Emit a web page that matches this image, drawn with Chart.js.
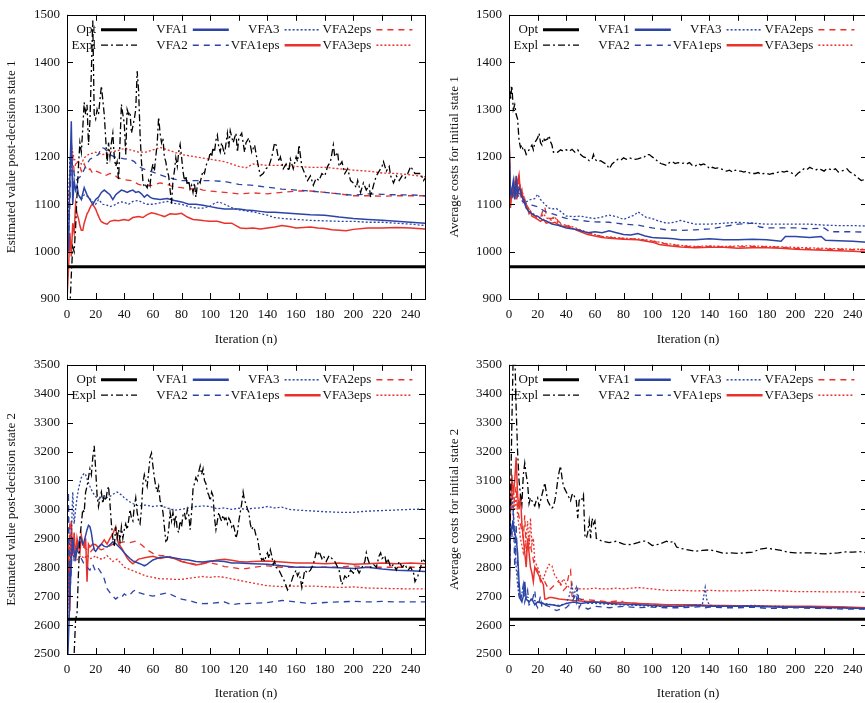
<!DOCTYPE html>
<html>
<head>
<meta charset="utf-8">
<script src="https://cdn.jsdelivr.net/npm/chart.js@4/dist/chart.umd.min.js"></script>
<style>
  html, body { margin: 0; padding: 0; background: #fff; overflow: hidden; width: 865px; height: 703px; }
  canvas { position: absolute; }
</style>
</head>
<body>
<canvas id="est1" width="440" height="350" style="left:0px;top:0px"></canvas>
<canvas id="cost1" width="450" height="350" style="left:432px;top:0px"></canvas>
<canvas id="est2" width="440" height="353" style="left:0px;top:350px"></canvas>
<canvas id="cost2" width="450" height="353" style="left:432px;top:350px"></canvas>
<script>
// ---- series names (legend order) ----
const seriesNames = ['Opt', 'Expl', 'VFA1', 'VFA2', 'VFA3', 'VFA1eps', 'VFA2eps', 'VFA3eps'];

// ---- Estimated value post-decision state 1: [iteration, value] ----
const est1Opt = [[0, 968], [250, 968]];
const est1Expl = [[2,880],[3,950],[4,1010],[5,1000],[6,1050],[7,1120],[8,1180],[9,1230],[10,1210],[11,1260],[12,1315],[13,1290],[14,1310],[15,1225],[16,1275],[17,1380],[18,1488],[19,1290],[20,1280],[21,1300],[22,1290],[23,1320],[24,1350],[25,1320],[26,1290],[27,1240],[28,1185],[29,1230],[30,1200],[31,1230],[32,1250],[33,1200],[34,1180],[35,1190],[36,1150],[37,1230],[38,1311],[39,1290],[40,1270],[41,1205],[42,1300],[43,1290],[44,1295],[45,1250],[46,1265],[47,1280],[48,1300],[49,1381],[50,1340],[51,1250],[52,1190],[53,1150],[54,1136],[55,1140],[56,1135],[57,1150],[58,1140],[59,1170],[60,1185],[61,1170],[62,1200],[63,1230],[64,1284],[65,1250],[66,1230],[67,1240],[68,1200],[69,1190],[70,1170],[71,1160],[72,1130],[73,1101],[74,1150],[75,1170],[76,1198],[77,1180],[78,1210],[79,1226],[80,1200],[81,1170],[82,1150],[83,1160],[84,1140],[85,1150],[86,1132],[87,1140],[88,1125],[89,1145],[90,1115],[91,1140],[92,1150],[93,1145],[94,1160],[95,1170],[96,1165],[97,1180],[98,1190],[99,1195],[100,1210],[101,1200],[102,1220],[103,1210],[104,1235],[105,1246],[106,1220],[107,1210],[108,1230],[110,1205],[112,1250],[113,1220],[114,1255],[116,1230],[118,1250],[119,1210],[120,1240],[122,1250],[124,1210],[125,1230],[127,1240],[129,1210],[131,1225],[133,1190],[135,1160],[137,1165],[139,1175],[141,1180],[143,1200],[145,1230],[146,1225],[148,1190],[149,1200],[151,1175],[153,1185],[155,1170],[156,1195],[158,1175],[160,1200],[161,1190],[162,1225],[164,1180],[166,1165],[168,1150],[170,1160],[172,1140],[174,1155],[176,1150],[178,1165],[180,1160],[182,1180],[184,1190],[186,1225],[187,1200],[189,1210],[190,1180],[192,1190],[194,1165],[196,1175],[198,1150],[200,1145],[202,1135],[203,1150],[205,1125],[207,1145],[209,1130],[211,1140],[212,1115],[214,1140],[216,1160],[218,1170],[220,1180],[221,1190],[223,1170],[225,1180],[226,1160],[228,1145],[230,1160],[232,1150],[234,1160],[236,1155],[238,1165],[240,1180],[241,1175],[243,1165],[245,1165],[247,1165],[249,1150],[250,1155]];
const est1VFA1 = [[1,1000],[2,1150],[3,1275],[4,1100],[5,1150],[6,1130],[7,1140],[8,1120],[10,1110],[12,1135],[14,1120],[16,1110],[18,1100],[20,1110],[22,1115],[24,1125],[26,1130],[28,1125],[30,1120],[32,1110],[34,1120],[36,1125],[38,1130],[40,1128],[42,1125],[44,1128],[46,1130],[48,1125],[50,1127],[52,1122],[54,1115],[56,1120],[58,1115],[60,1112],[65,1110],[70,1112],[75,1108],[80,1105],[85,1100],[90,1100],[95,1098],[100,1095],[105,1092],[110,1090],[115,1090],[120,1090],[125,1088],[130,1087],[135,1085],[140,1083],[145,1083],[150,1082],[160,1080],[170,1078],[180,1077],[190,1073],[200,1070],[210,1068],[220,1066],[230,1064],[240,1062],[250,1060]];
const est1VFA2 = [[1,1020],[2,1100],[3,1200],[4,1180],[6,1150],[8,1155],[10,1160],[13,1180],[16,1195],[19,1200],[22,1205],[24,1220],[26,1218],[28,1212],[30,1205],[33,1200],[36,1198],[40,1196],[44,1195],[47,1190],[50,1180],[53,1175],[56,1172],[60,1168],[65,1162],[70,1157],[75,1153],[80,1150],[90,1150],[100,1150],[110,1148],[120,1142],[130,1140],[140,1136],[150,1132],[160,1130],[170,1128],[180,1125],[190,1122],[200,1119],[210,1122],[220,1121],[230,1120],[240,1120],[250,1118]];
const est1VFA3 = [[1,1050],[2,1200],[3,1180],[4,1150],[6,1130],[8,1120],[10,1110],[12,1120],[15,1115],[18,1105],[20,1100],[22,1110],[25,1100],[28,1098],[30,1095],[33,1098],[35,1102],[38,1105],[40,1104],[43,1100],[46,1106],[50,1108],[53,1103],[56,1100],[60,1100],[65,1103],[70,1106],[75,1102],[80,1100],[85,1095],[90,1092],[95,1092],[100,1096],[103,1102],[106,1105],[110,1100],[115,1093],[120,1088],[125,1086],[130,1084],[135,1080],[140,1077],[145,1072],[150,1070],[160,1068],[170,1066],[180,1065],[190,1064],[200,1064],[210,1062],[220,1062],[230,1060],[240,1058],[250,1055]];
const est1VFA1eps = [[0,900],[1,960],[2,1040],[3,990],[4,1060],[5,1040],[6,1100],[7,1080],[8,1070],[9,1055],[10,1045],[11,1045],[12,1060],[13,1070],[14,1080],[15,1085],[16,1092],[17,1098],[18,1100],[19,1095],[20,1090],[21,1082],[22,1075],[23,1068],[24,1063],[26,1060],[28,1058],[30,1064],[33,1066],[36,1065],[40,1068],[43,1066],[46,1072],[50,1074],[53,1072],[56,1078],[59,1082],[62,1080],[65,1077],[68,1074],[72,1080],[76,1079],[80,1081],[84,1073],[88,1068],[92,1067],[96,1065],[100,1064],[105,1064],[110,1060],[115,1060],[118,1055],[121,1050],[125,1049],[130,1050],[135,1048],[140,1050],[145,1052],[150,1055],[155,1053],[160,1050],[165,1051],[170,1052],[175,1050],[180,1049],[185,1046],[190,1045],[195,1044],[200,1047],[210,1050],[220,1050],[230,1051],[240,1050],[250,1048]];
const est1VFA2eps = [[0,1000],[1,1100],[2,1150],[3,1230],[4,1200],[5,1170],[6,1185],[8,1190],[10,1170],[12,1185],[14,1170],[16,1175],[18,1165],[20,1170],[22,1168],[24,1165],[26,1160],[28,1162],[30,1165],[33,1162],[36,1155],[40,1152],[45,1150],[50,1142],[55,1138],[60,1140],[65,1145],[70,1142],[75,1136],[80,1135],[85,1132],[90,1134],[95,1130],[100,1128],[110,1125],[120,1122],[130,1124],[140,1122],[150,1125],[160,1128],[170,1128],[180,1125],[190,1122],[200,1118],[210,1118],[220,1117],[230,1118],[240,1118],[250,1118]];
const est1VFA3eps = [[0,1000],[1,1100],[2,1180],[3,1220],[4,1210],[5,1195],[7,1190],[10,1185],[12,1198],[15,1205],[18,1208],[20,1210],[25,1205],[30,1210],[35,1213],[40,1218],[45,1214],[50,1210],[55,1210],[60,1215],[65,1220],[70,1215],[75,1210],[80,1205],[90,1200],[100,1195],[110,1190],[120,1180],[125,1177],[130,1185],[140,1182],[150,1182],[160,1180],[170,1178],[180,1178],[190,1175],[200,1172],[210,1170],[220,1166],[230,1165],[240,1162],[250,1158]];

// ---- Average costs for initial state 1 ----
const cost1Opt = [[0, 968], [250, 968]];
const cost1Expl = [[0,1370],[1,1320],[2,1350],[3,1300],[4,1310],[5,1290],[6,1280],[7,1235],[8,1220],[9,1225],[10,1212],[11,1215],[12,1205],[13,1210],[14,1215],[15,1220],[16,1225],[17,1215],[18,1230],[19,1235],[20,1240],[21,1250],[22,1230],[23,1225],[24,1240],[25,1235],[27,1238],[28,1245],[29,1232],[30,1225],[31,1210],[32,1212],[34,1210],[36,1215],[38,1212],[40,1215],[42,1212],[44,1216],[46,1210],[48,1215],[50,1205],[52,1200],[54,1198],[56,1192],[58,1195],[59,1205],[60,1195],[62,1190],[64,1192],[66,1188],[68,1185],[70,1175],[72,1185],[74,1190],[76,1195],[78,1193],[80,1198],[82,1195],[84,1198],[86,1196],[88,1195],[90,1196],[92,1198],[94,1198],[96,1205],[98,1205],[100,1200],[102,1196],[104,1190],[106,1186],[108,1184],[110,1182],[112,1188],[114,1190],[116,1186],[118,1188],[120,1186],[122,1187],[124,1185],[126,1188],[128,1182],[130,1180],[132,1186],[134,1183],[136,1185],[138,1182],[140,1175],[142,1178],[144,1176],[146,1177],[148,1175],[150,1172],[152,1170],[154,1172],[156,1168],[158,1172],[160,1170],[162,1170],[164,1168],[166,1170],[168,1166],[170,1165],[172,1165],[174,1167],[176,1163],[178,1165],[180,1165],[182,1163],[184,1165],[186,1165],[188,1168],[190,1170],[192,1168],[194,1170],[196,1168],[198,1165],[200,1160],[202,1166],[204,1170],[206,1175],[208,1173],[210,1178],[212,1175],[214,1172],[216,1175],[218,1173],[220,1170],[222,1175],[224,1174],[226,1172],[228,1175],[230,1168],[232,1170],[234,1172],[236,1175],[238,1168],[240,1165],[242,1160],[244,1155],[246,1150],[248,1152],[250,1148]];
const cost1VFA1 = [[0,1250],[1,1120],[2,1130],[3,1150],[4,1110],[5,1160],[6,1120],[7,1135],[8,1130],[9,1115],[10,1110],[12,1092],[14,1085],[16,1080],[18,1076],[20,1075],[23,1068],[26,1065],[30,1058],[35,1055],[40,1050],[45,1048],[50,1044],[55,1040],[60,1042],[65,1040],[70,1044],[75,1040],[80,1036],[85,1035],[90,1038],[95,1033],[100,1030],[105,1029],[110,1028],[115,1027],[120,1025],[130,1025],[140,1027],[150,1025],[160,1025],[170,1026],[180,1025],[190,1022],[193,1032],[200,1032],[210,1030],[218,1032],[221,1024],[230,1023],[240,1022],[250,1020]];
const cost1VFA2 = [[0,1200],[1,1120],[2,1110],[3,1130],[4,1125],[6,1120],[8,1110],[10,1105],[13,1100],[16,1098],[20,1095],[25,1085],[30,1080],[35,1075],[40,1070],[45,1068],[50,1066],[55,1064],[60,1063],[70,1062],[80,1058],[90,1056],[100,1050],[110,1046],[120,1045],[130,1046],[140,1048],[150,1053],[160,1058],[170,1060],[175,1052],[180,1050],[190,1050],[200,1050],[210,1048],[220,1050],[224,1042],[230,1042],[240,1042],[250,1041]];
const cost1VFA3 = [[0,1200],[1,1130],[2,1120],[4,1135],[6,1125],[8,1120],[10,1112],[12,1105],[15,1110],[18,1112],[20,1121],[22,1110],[25,1100],[28,1092],[30,1090],[33,1091],[36,1085],[40,1075],[45,1074],[50,1075],[55,1072],[60,1070],[65,1073],[70,1077],[75,1074],[80,1068],[85,1074],[88,1078],[90,1084],[93,1078],[96,1072],[100,1070],[105,1064],[110,1060],[115,1062],[120,1066],[125,1062],[130,1058],[140,1058],[150,1060],[160,1062],[170,1060],[180,1058],[190,1058],[200,1058],[210,1058],[220,1056],[230,1055],[240,1055],[250,1054]];
const cost1VFA1eps = [[0,1267],[1,1092],[2,1130],[3,1120],[4,1145],[5,1110],[6,1150],[7,1163],[8,1120],[9,1130],[10,1105],[11,1110],[12,1095],[13,1090],[14,1080],[15,1085],[16,1075],[18,1072],[20,1068],[22,1064],[24,1068],[26,1060],[28,1062],[30,1060],[32,1062],[34,1058],[36,1054],[40,1053],[45,1048],[50,1042],[55,1036],[60,1033],[65,1030],[70,1028],[80,1026],[90,1025],[100,1020],[105,1015],[110,1013],[120,1010],[130,1008],[140,1009],[150,1009],[160,1007],[170,1008],[180,1008],[190,1007],[200,1005],[210,1004],[220,1003],[230,1002],[240,1001],[250,999]];
const cost1VFA2eps = [[0,1260],[1,1100],[2,1120],[3,1140],[4,1115],[5,1130],[6,1145],[7,1155],[8,1130],[10,1115],[12,1100],[14,1090],[16,1080],[18,1075],[20,1070],[22,1072],[24,1090],[25,1094],[26,1078],[28,1070],[30,1070],[32,1075],[34,1066],[36,1060],[40,1055],[45,1050],[50,1045],[55,1040],[60,1035],[65,1032],[70,1030],[80,1028],[90,1026],[100,1022],[110,1016],[120,1012],[130,1010],[140,1011],[150,1010],[160,1010],[170,1011],[180,1010],[190,1009],[200,1007],[210,1006],[220,1005],[230,1005],[240,1004],[250,1004]];
const cost1VFA3eps = [[0,1255],[1,1110],[2,1125],[3,1130],[4,1120],[5,1140],[6,1130],[7,1150],[8,1135],[10,1120],[12,1100],[14,1088],[16,1082],[18,1078],[20,1072],[22,1070],[24,1080],[26,1072],[28,1068],[30,1066],[32,1074],[34,1062],[36,1058],[40,1056],[45,1052],[50,1046],[55,1040],[60,1036],[65,1032],[70,1031],[80,1028],[90,1027],[100,1023],[110,1017],[120,1013],[130,1011],[140,1012],[150,1011],[160,1012],[170,1012],[180,1011],[190,1010],[200,1009],[210,1008],[220,1007],[230,1006],[240,1005],[250,1005]];

// ---- Estimated value post-decision state 2 ----
const est2Opt = [[0, 2620], [250, 2620]];
const est2Expl = [[4,2400],[5,2500],[6,2620],[7,2640],[8,2780],[9,2900],[10,2950],[11,3000],[12,2990],[13,3060],[14,3080],[15,3110],[16,3140],[17,3120],[18,3180],[19,3220],[20,3140],[21,3050],[22,3010],[23,3040],[24,3060],[25,3020],[26,3050],[27,3030],[28,3060],[29,3080],[30,3020],[31,2950],[32,2900],[33,2870],[34,2940],[35,2900],[36,2930],[37,2890],[38,2940],[39,2900],[40,2930],[41,2950],[42,2930],[43,2960],[44,3000],[45,2970],[46,2960],[47,3010],[48,3040],[49,2990],[50,2960],[51,2950],[52,3000],[53,3090],[54,3120],[55,3100],[56,3080],[57,3130],[58,3180],[59,3195],[60,3150],[61,3110],[62,3080],[63,3060],[64,3080],[65,3030],[66,3020],[67,2990],[68,2940],[69,2890],[70,2895],[71,2930],[72,2990],[73,2960],[74,2990],[75,2950],[76,2980],[77,2930],[78,2920],[79,2960],[80,2940],[81,2980],[82,2990],[83,2960],[84,3000],[85,2980],[86,2930],[87,2990],[88,3070],[89,3090],[90,3110],[91,3100],[92,3130],[93,3150],[94,3120],[95,3140],[96,3100],[97,3090],[98,3060],[99,3050],[100,3030],[101,3060],[102,3046],[103,2970],[104,2930],[105,2960],[106,2990],[107,2970],[108,2960],[109,2980],[110,2965],[111,2970],[112,2950],[113,2970],[114,2960],[115,2940],[116,2950],[117,2930],[118,2900],[119,2920],[120,2960],[121,2990],[122,3020],[123,3060],[124,3030],[125,3020],[126,3000],[127,2990],[128,2950],[129,2930],[130,2940],[131,2930],[132,2910],[133,2900],[134,2870],[135,2840],[136,2825],[137,2830],[138,2820],[139,2840],[140,2850],[141,2830],[142,2860],[143,2840],[144,2810],[145,2820],[146,2800],[148,2790],[150,2770],[152,2750],[154,2722],[156,2740],[158,2770],[160,2790],[161,2770],[162,2780],[163,2760],[164,2730],[165,2760],[166,2790],[168,2780],[170,2790],[172,2810],[174,2850],[175,2840],[176,2855],[178,2830],[179,2840],[181,2820],[183,2840],[185,2830],[187,2820],[189,2800],[190,2790],[191,2760],[192,2740],[194,2770],[196,2760],[198,2790],[200,2780],[202,2800],[204,2780],[206,2800],[208,2820],[209,2850],[210,2830],[212,2800],[214,2810],[216,2800],[218,2840],[219,2850],[220,2830],[222,2840],[223,2810],[224,2830],[226,2800],[228,2810],[230,2790],[232,2820],[234,2800],[236,2810],[238,2790],[240,2800],[242,2780],[243,2750],[245,2770],[247,2800],[248,2830],[250,2820]];
const est2VFA1 = [[0,2400],[1,2550],[2,2700],[3,2820],[4,2900],[5,2850],[6,2830],[7,2860],[8,2880],[9,2900],[10,2900],[11,2880],[12,2890],[13,2910],[14,2930],[15,2945],[16,2940],[17,2920],[18,2885],[19,2860],[20,2855],[22,2870],[24,2880],[26,2872],[28,2870],[30,2878],[32,2888],[34,2882],[36,2872],[38,2862],[40,2850],[42,2840],[44,2830],[46,2822],[48,2818],[50,2814],[52,2810],[54,2805],[56,2810],[58,2818],[60,2825],[65,2834],[70,2836],[75,2832],[80,2828],[85,2825],[90,2820],[95,2818],[100,2822],[105,2822],[110,2820],[115,2815],[120,2815],[130,2812],[140,2810],[150,2805],[160,2800],[170,2800],[180,2800],[190,2798],[200,2796],[210,2800],[220,2794],[230,2790],[240,2788],[250,2785]];
const est2VFA2 = [[0,2500],[1,3060],[2,2700],[3,2800],[4,2900],[5,2820],[6,2870],[8,2850],[10,2830],[12,2810],[14,2800],[16,2790],[18,2810],[20,2785],[22,2795],[24,2780],[26,2760],[28,2726],[30,2712],[32,2700],[34,2690],[36,2698],[38,2695],[40,2708],[42,2700],[44,2705],[46,2716],[48,2722],[50,2712],[52,2710],[55,2705],[60,2700],[65,2706],[70,2712],[75,2700],[80,2690],[85,2685],[90,2678],[95,2674],[100,2675],[110,2680],[115,2670],[120,2674],[130,2675],[140,2678],[150,2685],[160,2680],[170,2674],[180,2678],[190,2680],[200,2682],[210,2680],[220,2682],[230,2680],[240,2680],[250,2680]];
const est2VFA3 = [[0,2450],[1,2800],[2,2700],[3,2900],[4,3060],[5,2950],[6,3000],[7,3040],[8,3070],[10,3110],[12,3125],[13,3120],[14,3105],[16,3080],[18,3058],[20,3045],[22,3035],[25,3040],[28,3042],[30,3045],[33,3055],[35,3060],[38,3050],[40,3040],[45,3022],[50,3012],[55,3015],[60,3010],[65,3013],[70,3005],[75,2997],[80,3000],[85,3005],[90,3010],[95,3012],[100,3010],[105,3002],[110,3005],[115,3000],[120,3004],[125,3000],[130,3004],[135,3005],[140,3010],[145,3005],[150,3008],[155,3000],[160,2998],[170,2995],[180,2992],[190,2990],[200,2990],[210,2994],[220,2996],[230,2998],[240,3000],[250,3001]];
const est2VFA1eps = [[0,2500],[1,2900],[2,2650],[3,2960],[4,2840],[5,2920],[6,2830],[7,2900],[8,2870],[9,2850],[10,2910],[11,2880],[12,2870],[13,2900],[14,2750],[15,2880],[16,2870],[18,2880],[20,2878],[22,2868],[24,2880],[26,2895],[28,2880],[30,2900],[32,2915],[34,2940],[35,2905],[36,2880],[38,2868],[40,2850],[42,2832],[44,2820],[46,2812],[48,2820],[50,2828],[55,2834],[60,2838],[65,2830],[70,2835],[75,2830],[80,2820],[85,2814],[90,2808],[95,2812],[100,2820],[105,2825],[110,2828],[115,2824],[120,2820],[125,2818],[130,2820],[140,2822],[150,2818],[160,2815],[170,2815],[180,2812],[190,2815],[200,2810],[210,2812],[220,2815],[230,2812],[240,2815],[250,2812]];
const est2VFA2eps = [[0,2550],[1,2800],[2,2960],[3,2880],[4,2910],[5,2880],[6,2890],[8,2870],[10,2860],[12,2872],[14,2860],[16,2850],[18,2862],[20,2870],[24,2860],[28,2868],[32,2880],[36,2884],[40,2888],[44,2885],[48,2890],[52,2878],[56,2860],[60,2848],[65,2840],[70,2840],[75,2830],[80,2820],[85,2815],[90,2810],[95,2815],[100,2815],[105,2810],[110,2802],[115,2800],[120,2795],[125,2795],[130,2800],[140,2805],[150,2800],[160,2800],[170,2800],[180,2800],[190,2800],[200,2805],[210,2800],[220,2800],[230,2800],[240,2800],[250,2800]];
const est2VFA3eps = [[0,2600],[1,2750],[2,2900],[3,2870],[4,2850],[6,2820],[8,2832],[10,2840],[12,2830],[14,2842],[16,2830],[18,2832],[20,2840],[22,2830],[25,2828],[28,2840],[30,2830],[32,2820],[35,2828],[38,2812],[40,2800],[45,2790],[50,2780],[55,2770],[60,2765],[65,2760],[70,2760],[75,2758],[80,2758],[85,2762],[90,2765],[95,2768],[100,2765],[105,2768],[110,2765],[115,2760],[120,2755],[130,2745],[140,2736],[150,2733],[160,2735],[170,2735],[180,2733],[190,2730],[200,2732],[210,2728],[220,2727],[230,2726],[240,2725],[250,2725]];

// ---- Average costs for initial state 2 ----
const cost2Opt = [[0, 2620], [250, 2620]];
const cost2Expl = [[0,2650],[1,3000],[2,3300],[3,3550],[4,3550],[5,3350],[6,3200],[7,3100],[8,3050],[9,3020],[10,3120],[11,3160],[12,3120],[13,3090],[14,3020],[15,3040],[16,3030],[17,3020],[18,3012],[19,3030],[20,3040],[21,3010],[22,3030],[23,3050],[24,3070],[25,3092],[26,3060],[27,3030],[28,3020],[29,3010],[30,3005],[31,3010],[32,3030],[33,3060],[34,3100],[35,3130],[36,3150],[37,3110],[38,3080],[39,3070],[40,3060],[41,3050],[42,3040],[43,3030],[44,3050],[45,3055],[46,3040],[47,3030],[48,2970],[49,3030],[50,3040],[51,3035],[52,3050],[53,2910],[54,2900],[55,2920],[56,2960],[57,2900],[58,2970],[59,2950],[60,2960],[61,2900],[63,2895],[65,2890],[70,2885],[75,2890],[80,2880],[85,2878],[90,2885],[93,2890],[96,2890],[100,2875],[105,2880],[110,2890],[112,2885],[115,2890],[117,2870],[120,2865],[125,2860],[130,2855],[135,2858],[140,2860],[145,2855],[150,2848],[155,2850],[160,2848],[165,2850],[170,2852],[175,2862],[180,2866],[185,2862],[190,2858],[195,2852],[200,2850],[205,2850],[210,2850],[215,2848],[220,2846],[225,2848],[230,2850],[235,2853],[240,2852],[245,2854],[250,2850]];
const cost2VFA1 = [[0,2650],[1,2950],[2,2930],[3,2950],[4,2920],[5,2900],[6,2850],[7,2750],[8,2690],[9,2680],[10,2700],[11,2750],[12,2690],[14,2680],[16,2690],[18,2670],[20,2680],[25,2672],[30,2670],[35,2665],[40,2675],[45,2680],[50,2675],[55,2678],[60,2680],[70,2675],[80,2672],[90,2670],[100,2668],[110,2665],[120,2665],[130,2668],[140,2665],[150,2665],[160,2665],[170,2665],[180,2663],[190,2662],[200,2662],[210,2662],[220,2660],[230,2660],[240,2658],[250,2657]];
const cost2VFA2 = [[0,2700],[1,2950],[2,2900],[3,3000],[4,2800],[5,2950],[6,2800],[7,2700],[8,2680],[10,2740],[11,2680],[13,2720],[14,2670],[16,2680],[18,2720],[19,2670],[20,2660],[22,2700],[23,2660],[25,2670],[30,2660],[33,2650],[36,2655],[40,2660],[44,2680],[46,2700],[47,2680],[48,2730],[49,2660],[50,2670],[55,2655],[60,2665],[70,2660],[80,2665],[90,2660],[100,2662],[110,2660],[120,2660],[130,2662],[135,2665],[137,2660],[140,2662],[150,2660],[160,2660],[170,2662],[180,2658],[190,2658],[200,2660],[210,2658],[220,2658],[230,2656],[240,2655],[250,2655]];
const cost2VFA3 = [[0,2700],[1,3000],[2,3050],[3,3000],[4,2900],[5,2800],[6,2740],[7,2700],[8,2690],[10,2730],[12,2700],[15,2690],[20,2680],[25,2675],[30,2670],[35,2668],[40,2675],[42,2700],[44,2740],[45,2700],[47,2730],[48,2690],[50,2690],[55,2675],[60,2675],[70,2672],[80,2670],[90,2668],[100,2665],[110,2665],[120,2665],[130,2668],[135,2670],[136,2700],[137,2730],[138,2690],[140,2668],[150,2665],[160,2665],[170,2668],[180,2665],[190,2665],[200,2662],[210,2662],[220,2660],[230,2660],[240,2658],[250,2657]];
const cost2VFA1eps = [[0,2650],[1,3000],[2,3120],[3,3050],[4,3100],[5,3180],[6,3050],[7,3000],[8,3050],[9,2950],[10,2900],[11,2850],[12,2800],[13,2900],[14,2850],[15,2800],[16,2780],[17,2750],[18,2800],[20,2780],[22,2760],[24,2740],[25,2690],[26,2690],[28,2695],[30,2695],[35,2690],[40,2688],[45,2685],[50,2683],[60,2680],[70,2678],[80,2678],[90,2675],[100,2673],[110,2670],[120,2670],[130,2670],[140,2668],[150,2668],[160,2667],[170,2667],[180,2666],[190,2665],[200,2665],[210,2665],[220,2664],[230,2663],[240,2662],[250,2660]];
const cost2VFA2eps = [[0,2650],[1,3050],[2,3100],[3,3000],[4,3050],[5,3080],[6,3000],[8,2950],[10,2900],[11,2980],[12,2850],[14,2900],[16,2850],[18,2800],[20,2790],[22,2750],[24,2760],[26,2740],[28,2720],[30,2730],[32,2740],[34,2750],[36,2745],[38,2720],[40,2730],[42,2780],[43,2790],[44,2700],[46,2695],[50,2690],[60,2685],[70,2680],[78,2685],[80,2678],[90,2675],[100,2672],[110,2670],[120,2670],[130,2668],[140,2668],[150,2666],[160,2666],[170,2665],[180,2665],[190,2664],[200,2664],[210,2664],[220,2663],[230,2662],[240,2660],[250,2660]];
const cost2VFA3eps = [[0,2650],[1,3050],[2,3000],[3,3080],[4,3000],[5,3050],[6,2980],[8,2900],[10,2850],[12,2900],[13,2960],[14,2860],[15,2970],[16,2880],[17,2900],[18,2820],[20,2800],[22,2770],[24,2760],[26,2790],[28,2810],[30,2805],[32,2770],[34,2760],[36,2740],[38,2760],[40,2740],[42,2730],[45,2725],[50,2725],[55,2725],[60,2728],[65,2725],[70,2725],[75,2728],[80,2725],[90,2730],[100,2725],[110,2720],[120,2720],[130,2718],[140,2720],[150,2718],[160,2718],[170,2720],[180,2720],[190,2718],[200,2716],[210,2716],[220,2715],[230,2715],[240,2715],[250,2713]];

// ---- line styles per series ----
const BLUE = '#2b44a6';
const RED = '#e8322b';
const lineStyles = {
  Opt:     { color: '#000', width: 3.0, dash: [],           keyWidth: 3.0 },
  Expl:    { color: '#000', width: 1.3, dash: [7, 3, 2, 3], keyWidth: 1.3 },
  VFA1:    { color: BLUE,   width: 1.5, dash: [],           keyWidth: 2.6 },
  VFA2:    { color: BLUE,   width: 1.3, dash: [6, 5],       keyWidth: 1.5 },
  VFA3:    { color: BLUE,   width: 1.3, dash: [2, 2],       keyWidth: 1.5 },
  VFA1eps: { color: RED,    width: 1.5, dash: [],           keyWidth: 2.6 },
  VFA2eps: { color: RED,    width: 1.3, dash: [6, 5],       keyWidth: 1.5 },
  VFA3eps: { color: RED,    width: 1.3, dash: [2, 2],       keyWidth: 1.5 }
};

const FONT = { family: '"Liberation Serif", "Times New Roman", serif', size: 13 };
const TEXT = '#111';

// gnuplot-like frame with inward ticks on all four sides and a two-row key
const gnuplotFrame = {
  id: 'gnuplotFrame',
  beforeDatasetsDraw(chart) {
    const { ctx, chartArea: a } = chart;
    ctx.save();
    ctx.font = `${FONT.size}px ${FONT.family}`;
    ctx.fillStyle = TEXT;
    ctx.textAlign = 'right';
    ctx.textBaseline = 'middle';
    chart.data.datasets.forEach((ds, i) => {
      const col = Math.floor(i / 2), row = i % 2;
      const tx = a.left + 29 + col * 91.8;
      const ty = a.top + 15 + row * 15.4;
      ctx.fillText(ds.label, tx, ty);
      ctx.beginPath();
      ctx.setLineDash(ds.borderDash);
      ctx.lineWidth = lineStyles[ds.label].keyWidth;
      ctx.strokeStyle = ds.borderColor;
      ctx.moveTo(tx + 5, ty);
      ctx.lineTo(tx + 41, ty);
      ctx.stroke();
    });
    ctx.restore();
  },
  afterDatasetsDraw(chart) {
    const { ctx, chartArea: a, scales } = chart;
    const T = 6;
    ctx.save();
    ctx.setLineDash([]);
    ctx.strokeStyle = '#000';
    ctx.lineWidth = 1;
    ctx.beginPath();
    scales.x.ticks.forEach(t => {
      const px = Math.round(scales.x.getPixelForValue(t.value)) + 0.5;
      ctx.moveTo(px, a.bottom); ctx.lineTo(px, a.bottom - T);
      ctx.moveTo(px, a.top); ctx.lineTo(px, a.top + T);
    });
    scales.y.ticks.forEach(t => {
      const py = Math.round(scales.y.getPixelForValue(t.value)) + 0.5;
      ctx.moveTo(a.left, py); ctx.lineTo(a.left + T, py);
      ctx.moveTo(a.right, py); ctx.lineTo(a.right - T, py);
    });
    ctx.stroke();
    ctx.strokeRect(Math.round(a.left) + 0.5, Math.round(a.top) + 0.5,
                   Math.round(a.right - a.left), Math.round(a.bottom - a.top));
    ctx.restore();
  }
};

function buildDatasets(seriesList) {
  return seriesList.map((pts, i) => {
    const name = seriesNames[i];
    const st = lineStyles[name];
    return {
      label: name,
      data: pts.map(([x, y]) => ({ x, y })),
      borderColor: st.color,
      borderWidth: st.width,
      borderDash: st.dash,
      pointRadius: 0,
      tension: 0,
      fill: false
    };
  });
}

function makePanel(id, seriesList, p) {
  return new Chart(document.getElementById(id), {
    type: 'line',
    data: { datasets: buildDatasets(seriesList) },
    plugins: [gnuplotFrame],
    options: {
      responsive: false,
      animation: false,
      devicePixelRatio: 1,
      layout: { padding: { top: p.padTop, right: p.padRight, left: 0, bottom: 0 } },
      plugins: { legend: { display: false }, tooltip: { enabled: false } },
      scales: {
        x: {
          type: 'linear', min: 0, max: 250,
          grid: { display: false, drawTicks: false },
          border: { display: false },
          ticks: { stepSize: 20, includeBounds: false, autoSkip: false, maxRotation: 0,
                   padding: 8, font: FONT, color: TEXT, callback: v => String(v) },
          title: { display: true, text: 'Iteration (n)', font: FONT, color: TEXT,
                   padding: { top: 0, bottom: p.xTitlePad } },
          afterFit: s => { s.height = p.xAxisH; }
        },
        y: {
          type: 'linear', min: p.yMin, max: p.yMax,
          grid: { display: false, drawTicks: false },
          border: { display: false },
          ticks: { stepSize: 100, padding: 7, font: FONT, color: TEXT, callback: v => String(v) },
          title: { display: true, text: p.yTitle, font: FONT, color: TEXT,
                   padding: { top: p.yTitlePad, bottom: 0 } },
          afterFit: s => { s.width = p.yAxisW; }
        }
      }
    }
  });
}

makePanel('est1',
  [est1Opt, est1Expl, est1VFA1, est1VFA2, est1VFA3, est1VFA1eps, est1VFA2eps, est1VFA3eps],
  { yMin: 900, yMax: 1500, yTitle: 'Estimated value post-decision state 1',
    padTop: 9, padRight: 15, xAxisH: 51, yAxisW: 67, xTitlePad: 3, yTitlePad: 4 });

makePanel('cost1',
  [cost1Opt, cost1Expl, cost1VFA1, cost1VFA2, cost1VFA3, cost1VFA1eps, cost1VFA2eps, cost1VFA3eps],
  { yMin: 900, yMax: 1500, yTitle: 'Average costs for initial state 1',
    padTop: 9, padRight: 15, xAxisH: 51, yAxisW: 77, xTitlePad: 3, yTitlePad: 15 });

makePanel('est2',
  [est2Opt, est2Expl, est2VFA1, est2VFA2, est2VFA3, est2VFA1eps, est2VFA2eps, est2VFA3eps],
  { yMin: 2500, yMax: 3500, yTitle: 'Estimated value post-decision state 2',
    padTop: 13, padRight: 15, xAxisH: 49, yAxisW: 67, xTitlePad: 2, yTitlePad: 4 });

makePanel('cost2',
  [cost2Opt, cost2Expl, cost2VFA1, cost2VFA2, cost2VFA3, cost2VFA1eps, cost2VFA2eps, cost2VFA3eps],
  { yMin: 2500, yMax: 3500, yTitle: 'Average costs for initial state 2',
    padTop: 13, padRight: 15, xAxisH: 49, yAxisW: 77, xTitlePad: 2, yTitlePad: 15 });
</script>
</body>
</html>
